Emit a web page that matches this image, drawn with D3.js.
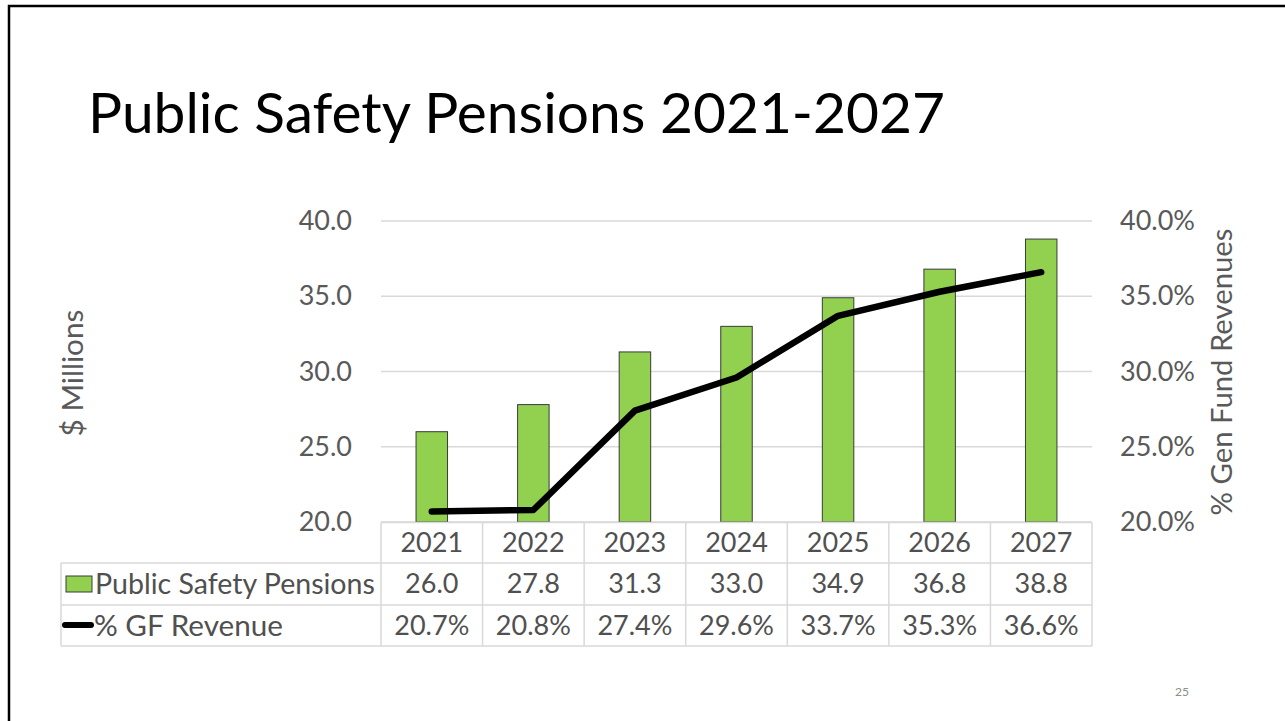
<!DOCTYPE html>
<html>
<head>
<meta charset="utf-8">
<script src="https://cdn.jsdelivr.net/npm/d3@7"></script>
<style>
  html, body { margin: 0; padding: 0; background: #fff; }
  svg { display: block; }
  text { font-family: Lato, "Open Sans", sans-serif; }
</style>
</head>
<body>
<svg id="chart" width="1285" height="721"></svg>
<script>
// Chart data
const years = ["2021", "2022", "2023", "2024", "2025", "2026", "2027"];
const pensions = [26.0, 27.8, 31.3, 33.0, 34.9, 36.8, 38.8];          // $ millions
const gfRevenueShare = [0.207, 0.208, 0.274, 0.296, 0.337, 0.353, 0.366]; // share of general fund revenue
const leftTicks = [20, 25, 30, 35, 40];
const rightTicks = [0.20, 0.25, 0.30, 0.35, 0.40];

const svg = d3.select("#chart");
const textGray = "#595959";
const gridGray = "#d9d9d9";
const barGreen = "#92d050";

// Slide frame
svg.append("path")
  .attr("d", "M9,721 V6 H1285")
  .attr("fill", "none")
  .attr("stroke", "#000")
  .attr("stroke-width", 2.5);

// Fit a text element's font size to a target width
function fitWidth(sel, target) {
  const node = sel.node();
  const fs = parseFloat(sel.attr("font-size"));
  const w = node.getComputedTextLength();
  if (w > 0) sel.attr("font-size", fs * target / w);
}

// Title
const title = svg.append("text")
  .attr("x", 88).attr("y", 133)
  .attr("font-size", 60)
  .attr("fill", "#000")
  .text("Public Safety Pensions 2021-2027");
fitWidth(title, 857);

// Plot geometry
const plotLeft = 381, plotRight = 1092, plotTop = 221, plotBottom = 522;

const x = d3.scaleBand().domain(years).range([plotLeft, plotRight]).padding(0);
const yL = d3.scaleLinear().domain([20, 40]).range([plotBottom, plotTop]);
const yR = d3.scaleLinear().domain([0.20, 0.40]).range([plotBottom, plotTop]);

// Gridlines
svg.append("g").selectAll("line")
  .data(leftTicks)
  .join("line")
  .attr("x1", plotLeft).attr("x2", plotRight)
  .attr("y1", d => yL(d)).attr("y2", d => yL(d))
  .attr("stroke", gridGray).attr("stroke-width", 1.3);

const tickFont = 27;

// Left axis
const axL = svg.append("g")
  .attr("transform", `translate(${plotLeft},0)`)
  .call(d3.axisLeft(yL).tickValues(leftTicks).tickFormat(d3.format(".1f")).tickSize(0).tickPadding(29));
axL.select(".domain").remove();
axL.selectAll("text")
  .attr("font-size", tickFont).attr("fill", textGray)
  .style("font-family", "Lato, 'Open Sans', sans-serif");

// Right axis
const axR = svg.append("g")
  .attr("transform", `translate(${plotRight},0)`)
  .call(d3.axisRight(yR).tickValues(rightTicks).tickFormat(d3.format(".1%")).tickSize(0).tickPadding(28));
axR.select(".domain").remove();
axR.selectAll("text")
  .attr("font-size", tickFont).attr("fill", textGray)
  .style("font-family", "Lato, 'Open Sans', sans-serif");

// Axis titles
const tL = svg.append("text")
  .attr("transform", "translate(83,373) rotate(-90)")
  .attr("text-anchor", "middle")
  .attr("font-size", 24).attr("fill", textGray)
  .text("$ Millions");
fitWidth(tL, 127);

const tR = svg.append("text")
  .attr("transform", "translate(1232,372) rotate(-90)")
  .attr("text-anchor", "middle")
  .attr("font-size", 24).attr("fill", textGray)
  .text("% Gen Fund Revenues");
fitWidth(tR, 287);

// Bars
const barW = x.bandwidth() * 0.31;
svg.append("g").selectAll("rect")
  .data(years.map((y, i) => ({ year: y, v: pensions[i] })))
  .join("rect")
  .attr("x", d => x(d.year) + (x.bandwidth() - barW) / 2)
  .attr("y", d => yL(d.v))
  .attr("width", barW)
  .attr("height", d => yL(20) - yL(d.v))
  .attr("fill", barGreen)
  .attr("stroke", "#3a3a3a")
  .attr("stroke-width", 1);

// Line series
const line = d3.line()
  .x((d, i) => x(years[i]) + x.bandwidth() / 2)
  .y(d => yR(d));
svg.append("path")
  .datum(gfRevenueShare)
  .attr("d", line)
  .attr("fill", "none")
  .attr("stroke", "#000")
  .attr("stroke-width", 6.5)
  .attr("stroke-linecap", "round")
  .attr("stroke-linejoin", "round");

// Data table
const tableLeft = 61;
const rowY = [522.5, 563, 605, 646];
const table = svg.append("g");

// horizontal lines
table.append("line").attr("x1", plotLeft).attr("x2", plotRight)
  .attr("y1", rowY[0]).attr("y2", rowY[0]);
[rowY[1], rowY[2], rowY[3]].forEach(yy => {
  table.append("line").attr("x1", tableLeft).attr("x2", plotRight)
    .attr("y1", yy).attr("y2", yy);
});
// vertical lines
const colEdges = years.map(y => x(y)).concat([plotRight]);
colEdges.forEach(xx => {
  table.append("line").attr("x1", xx).attr("x2", xx)
    .attr("y1", rowY[0]).attr("y2", rowY[3]);
});
table.append("line").attr("x1", tableLeft).attr("x2", tableLeft)
  .attr("y1", rowY[1]).attr("y2", rowY[3]);
table.selectAll("line").attr("stroke", gridGray).attr("stroke-width", 1.5);

const cellFont = 27;
const cellColor = "#505050";
function rowText(values, fmt, yMid) {
  table.append("g").selectAll("text")
    .data(values)
    .join("text")
    .attr("x", (d, i) => x(years[i]) + x.bandwidth() / 2)
    .attr("y", yMid)
    .attr("dy", "0.35em")
    .attr("text-anchor", "middle")
    .attr("font-size", cellFont)
    .attr("fill", cellColor)
    .text(fmt);
}
rowText(years, d => d, (rowY[0] + rowY[1]) / 2);
rowText(pensions, d3.format(".1f"), (rowY[1] + rowY[2]) / 2);
rowText(gfRevenueShare, d3.format(".1%"), (rowY[2] + rowY[3]) / 2);

// Row headers with legend keys
table.append("rect")
  .attr("x", 66).attr("y", 576).attr("width", 26).attr("height", 16)
  .attr("fill", barGreen).attr("stroke", "#3a3a3a").attr("stroke-width", 1);
const h1 = table.append("text")
  .attr("x", 95).attr("y", (rowY[1] + rowY[2]) / 2).attr("dy", "0.35em")
  .attr("font-size", cellFont).attr("fill", cellColor)
  .text("Public Safety Pensions");
fitWidth(h1, 280);
table.append("line")
  .attr("x1", 65).attr("x2", 91).attr("y1", 625).attr("y2", 625)
  .attr("stroke", "#000").attr("stroke-width", 6).attr("stroke-linecap", "round");
const h2 = table.append("text")
  .attr("x", 94).attr("y", (rowY[2] + rowY[3]) / 2).attr("dy", "0.35em")
  .attr("font-size", cellFont).attr("fill", cellColor)
  .text("% GF Revenue");
fitWidth(h2, 189);

// Slide number
svg.append("text")
  .attr("x", 1182).attr("y", 696)
  .attr("text-anchor", "middle")
  .attr("font-size", 12).attr("fill", "#8c8c8c")
  .text("25");
</script>
</body>
</html>
